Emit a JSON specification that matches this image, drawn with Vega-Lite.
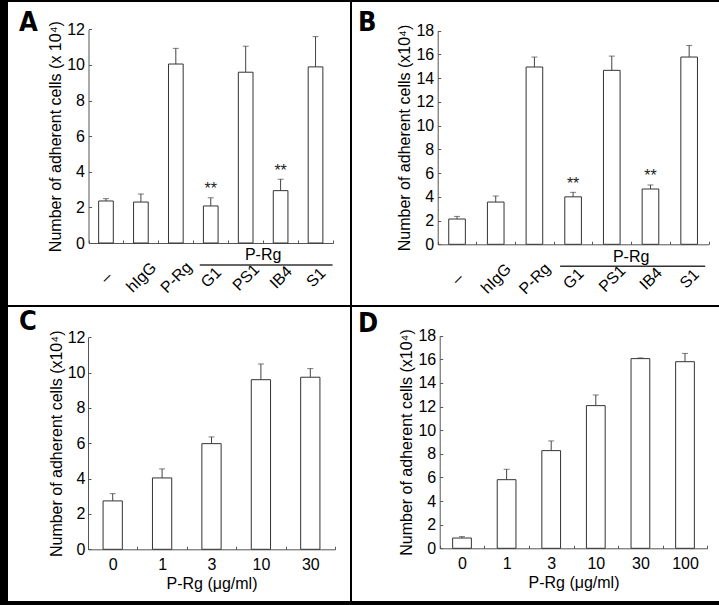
{
  "$schema": "https://vega.github.io/schema/vega-lite/v6.json",
  "background": "black",
  "padding": {"left": 2, "top": 2, "right": 2, "bottom": 4},
  "autosize": {"type": "pad"},
  "config": {
    "font": "Liberation Sans",
    "view": {"stroke": null, "fill": "white"},
    "axis": {
      "grid": false,
      "labelFont": "Liberation Sans",
      "labelFontSize": 16,
      "labelColor": "black",
      "titleFont": "Liberation Sans",
      "titleFontSize": 16,
      "titleFontWeight": "normal",
      "titleColor": "black",
      "domainColor": "#555",
      "tickColor": "#555",
      "tickSize": -3,
      "labelOverlap": false,
      "labelFlush": false
    },
    "title": {"font": "'Liberation Sans Narrow', 'DejaVu Sans Condensed', 'Liberation Sans', sans-serif", "fontSize": 27, "fontWeight": "bold", "anchor": "start", "frame": "group", "offset": 0, "color": "black"}
  },
  "datasets": {
    "A": [
      {"g": "–", "v": 2.36, "e": 2.49},
      {"g": "hIgG", "v": 2.3, "e": 2.75},
      {"g": "P-Rg", "v": 10.05, "e": 10.93},
      {"g": "G1", "v": 2.08, "e": 2.54, "sig": "**"},
      {"g": "PS1", "v": 9.59, "e": 11.05},
      {"g": "IB4", "v": 2.94, "e": 3.58, "sig": "**"},
      {"g": "S1", "v": 9.89, "e": 11.59}
    ],
    "B": [
      {"g": "–", "v": 2.13, "e": 2.35},
      {"g": "hIgG", "v": 3.56, "e": 4.07},
      {"g": "P-Rg", "v": 14.94, "e": 15.78},
      {"g": "G1", "v": 4.0, "e": 4.38, "sig": "**"},
      {"g": "PS1", "v": 14.66, "e": 15.86},
      {"g": "IB4", "v": 4.66, "e": 5.0, "sig": "**"},
      {"g": "S1", "v": 15.78, "e": 16.76}
    ],
    "C": [
      {"g": "0", "v": 2.74, "e": 3.15},
      {"g": "1", "v": 4.04, "e": 4.55},
      {"g": "3", "v": 5.98, "e": 6.36},
      {"g": "10", "v": 9.6, "e": 10.49},
      {"g": "30", "v": 9.74, "e": 10.23}
    ],
    "D": [
      {"g": "0", "v": 0.87, "e": 0.99},
      {"g": "1", "v": 5.81, "e": 6.69},
      {"g": "3", "v": 8.27, "e": 9.09},
      {"g": "10", "v": 12.08, "e": 12.98},
      {"g": "30", "v": 16.06, "e": 16.12},
      {"g": "100", "v": 15.8, "e": 16.5}
    ],
    "grp": [
      {"from": "G1", "to": "S1", "mid": "IB4", "label": "P-Rg"}
    ]
  },
  "columns": 2,
  "spacing": 2,
  "bounds": "flush",
  "concat": [
    {
      "width": 342, "height": 303,
      "title": {"text": "A", "dx": 11, "dy": 39},
      "layer": [
        {
          "data": {"name": "A"},
          "mark": {"type": "bar", "fill": "white", "stroke": "#333", "strokeWidth": 1, "width": {"band": 0.42}},
          "encoding": {
            "x": {"field": "g", "type": "nominal",
              "scale": {"domain": ["–", "hIgG", "P-Rg", "G1", "PS1", "IB4", "S1"], "range": [80.5, 325], "paddingInner": 0, "paddingOuter": 0},
              "axis": {"title": null, "labelAngle": -45, "labelAlign": "center", "labelBaseline": "middle", "labelPadding": 37, "tickBand": "extent", "offset": -62}},
            "y": {"field": "v", "type": "quantitative",
              "scale": {"domain": [0, 12], "range": [241, 27.3], "nice": false},
              "axis": {"title": "Number of adherent cells (x 10⁴)", "values": [0, 2, 4, 6, 8, 10, 12], "offset": -80.5, "labelPadding": 7, "titlePadding": 3}}
          }
        },
        {
          "data": {"name": "A"},
          "mark": {"type": "rule", "color": "#444", "strokeWidth": 1},
          "encoding": {"x": {"field": "g", "type": "nominal"},
            "y": {"field": "v", "type": "quantitative", "axis": {"title": "Number of adherent cells (x 10⁴)", "values": [0, 2, 4, 6, 8, 10, 12], "offset": -80.5, "labelPadding": 7, "titlePadding": 3}},
            "y2": {"field": "e"}}
        },
        {
          "data": {"name": "A"},
          "mark": {"type": "tick", "orient": "horizontal", "size": 6, "thickness": 1, "color": "#444"},
          "encoding": {"x": {"field": "g", "type": "nominal"},
            "y": {"field": "e", "type": "quantitative", "axis": {"title": "Number of adherent cells (x 10⁴)", "values": [0, 2, 4, 6, 8, 10, 12], "offset": -80.5, "labelPadding": 7, "titlePadding": 3}}}
        },
        {
          "data": {"name": "A"},
          "transform": [{"filter": "isValid(datum.sig)"}],
          "mark": {"type": "text", "fontSize": 16, "baseline": "alphabetic", "dy": -3.5, "color": "#222"},
          "encoding": {"x": {"field": "g", "type": "nominal"},
            "y": {"field": "e", "type": "quantitative", "axis": {"title": "Number of adherent cells (x 10⁴)", "values": [0, 2, 4, 6, 8, 10, 12], "offset": -80.5, "labelPadding": 7, "titlePadding": 3}},
            "text": {"field": "sig"}}
        },
        {
          "data": {"name": "grp"},
          "mark": {"type": "rule", "color": "#333", "strokeWidth": 1.5, "yOffset": 22, "xOffset": -11, "x2Offset": 17},
          "encoding": {"x": {"field": "from", "type": "nominal"}, "x2": {"field": "to"},
            "y": {"datum": 0, "type": "quantitative", "axis": {"title": "Number of adherent cells (x 10⁴)", "values": [0, 2, 4, 6, 8, 10, 12], "offset": -80.5, "labelPadding": 7, "titlePadding": 3}}}
        },
        {
          "data": {"name": "grp"},
          "mark": {"type": "text", "fontSize": 16, "baseline": "alphabetic", "dy": 16.5, "color": "black"},
          "encoding": {"x": {"field": "mid", "type": "nominal", "bandPosition": 0},
            "y": {"datum": 0, "type": "quantitative", "axis": {"title": "Number of adherent cells (x 10⁴)", "values": [0, 2, 4, 6, 8, 10, 12], "offset": -80.5, "labelPadding": 7, "titlePadding": 3}},
            "text": {"field": "label"}}
        }
      ]
    },
    {
      "width": 371, "height": 303,
      "title": {"text": "B", "dx": 6, "dy": 39},
      "layer": [
        {
          "data": {"name": "B"},
          "mark": {"type": "bar", "fill": "white", "stroke": "#333", "strokeWidth": 1, "width": {"band": 0.43}},
          "encoding": {
            "x": {"field": "g", "type": "nominal",
              "scale": {"domain": ["–", "hIgG", "P-Rg", "G1", "PS1", "IB4", "S1"], "range": [85.7, 356.5], "paddingInner": 0, "paddingOuter": 0},
              "axis": {"title": null, "labelAngle": -45, "labelAlign": "center", "labelBaseline": "middle", "labelPadding": 37, "tickBand": "extent", "offset": -60.7}},
            "y": {"field": "v", "type": "quantitative",
              "scale": {"domain": [0, 18], "range": [242.3, 28.7], "nice": false},
              "axis": {"title": "Number of adherent cells (x10⁴)", "values": [0, 2, 4, 6, 8, 10, 12, 14, 16, 18], "offset": -85.7, "labelPadding": 7, "titlePadding": 3}}
          }
        },
        {
          "data": {"name": "B"},
          "mark": {"type": "rule", "color": "#444", "strokeWidth": 1},
          "encoding": {"x": {"field": "g", "type": "nominal"},
            "y": {"field": "v", "type": "quantitative", "axis": {"title": "Number of adherent cells (x10⁴)", "values": [0, 2, 4, 6, 8, 10, 12, 14, 16, 18], "offset": -85.7, "labelPadding": 7, "titlePadding": 3}},
            "y2": {"field": "e"}}
        },
        {
          "data": {"name": "B"},
          "mark": {"type": "tick", "orient": "horizontal", "size": 6, "thickness": 1, "color": "#444"},
          "encoding": {"x": {"field": "g", "type": "nominal"},
            "y": {"field": "e", "type": "quantitative", "axis": {"title": "Number of adherent cells (x10⁴)", "values": [0, 2, 4, 6, 8, 10, 12, 14, 16, 18], "offset": -85.7, "labelPadding": 7, "titlePadding": 3}}}
        },
        {
          "data": {"name": "B"},
          "transform": [{"filter": "isValid(datum.sig)"}],
          "mark": {"type": "text", "fontSize": 16, "baseline": "alphabetic", "dy": -3.5, "color": "#222"},
          "encoding": {"x": {"field": "g", "type": "nominal"},
            "y": {"field": "e", "type": "quantitative", "axis": {"title": "Number of adherent cells (x10⁴)", "values": [0, 2, 4, 6, 8, 10, 12, 14, 16, 18], "offset": -85.7, "labelPadding": 7, "titlePadding": 3}},
            "text": {"field": "sig"}}
        },
        {
          "data": {"name": "grp"},
          "mark": {"type": "rule", "color": "#333", "strokeWidth": 1.5, "yOffset": 22, "xOffset": -13, "x2Offset": 16},
          "encoding": {"x": {"field": "from", "type": "nominal"}, "x2": {"field": "to"},
            "y": {"datum": 0, "type": "quantitative", "axis": {"title": "Number of adherent cells (x10⁴)", "values": [0, 2, 4, 6, 8, 10, 12, 14, 16, 18], "offset": -85.7, "labelPadding": 7, "titlePadding": 3}}}
        },
        {
          "data": {"name": "grp"},
          "mark": {"type": "text", "fontSize": 16, "baseline": "alphabetic", "dy": 17.5, "color": "black"},
          "encoding": {"x": {"field": "mid", "type": "nominal", "bandPosition": 0},
            "y": {"datum": 0, "type": "quantitative", "axis": {"title": "Number of adherent cells (x10⁴)", "values": [0, 2, 4, 6, 8, 10, 12, 14, 16, 18], "offset": -85.7, "labelPadding": 7, "titlePadding": 3}},
            "text": {"field": "label"}}
        }
      ]
    },
    {
      "width": 342, "height": 294,
      "title": {"text": "C", "dx": 11, "dy": 33},
      "layer": [
        {
          "data": {"name": "C"},
          "mark": {"type": "bar", "fill": "white", "stroke": "#333", "strokeWidth": 1, "width": {"band": 0.39}},
          "encoding": {
            "x": {"field": "g", "type": "nominal",
              "scale": {"domain": ["0", "1", "3", "10", "30"], "range": [80, 327], "paddingInner": 0, "paddingOuter": 0},
              "axis": {"title": "P-Rg (μg/ml)", "labelAngle": 0, "labelPadding": 10, "titlePadding": 3, "tickBand": "extent", "offset": -51.7}},
            "y": {"field": "v", "type": "quantitative",
              "scale": {"domain": [0, 12], "range": [242.3, 30.3], "nice": false},
              "axis": {"title": "Number of adherent cells (x10⁴)", "values": [0, 2, 4, 6, 8, 10, 12], "offset": -80, "labelPadding": 6, "titlePadding": 3}}
          }
        },
        {
          "data": {"name": "C"},
          "mark": {"type": "rule", "color": "#444", "strokeWidth": 1},
          "encoding": {"x": {"field": "g", "type": "nominal"},
            "y": {"field": "v", "type": "quantitative", "axis": {"title": "Number of adherent cells (x10⁴)", "values": [0, 2, 4, 6, 8, 10, 12], "offset": -80, "labelPadding": 6, "titlePadding": 3}},
            "y2": {"field": "e"}}
        },
        {
          "data": {"name": "C"},
          "mark": {"type": "tick", "orient": "horizontal", "size": 6, "thickness": 1, "color": "#444"},
          "encoding": {"x": {"field": "g", "type": "nominal"},
            "y": {"field": "e", "type": "quantitative", "axis": {"title": "Number of adherent cells (x10⁴)", "values": [0, 2, 4, 6, 8, 10, 12], "offset": -80, "labelPadding": 6, "titlePadding": 3}}}
        }
      ]
    },
    {
      "width": 371, "height": 294,
      "title": {"text": "D", "dx": 6, "dy": 35},
      "layer": [
        {
          "data": {"name": "D"},
          "mark": {"type": "bar", "fill": "white", "stroke": "#333", "strokeWidth": 1, "width": {"band": 0.42}},
          "encoding": {
            "x": {"field": "g", "type": "nominal",
              "scale": {"domain": ["0", "1", "3", "10", "30", "100"], "range": [87.7, 355.3], "paddingInner": 0, "paddingOuter": 0},
              "axis": {"title": "P-Rg (μg/ml)", "labelAngle": 0, "labelPadding": 10, "titlePadding": 3, "tickBand": "extent", "offset": -52.7}},
            "y": {"field": "v", "type": "quantitative",
              "scale": {"domain": [0, 18], "range": [241.3, 28.7], "nice": false},
              "axis": {"title": "Number of adherent cells (x10⁴)", "values": [0, 2, 4, 6, 8, 10, 12, 14, 16, 18], "offset": -87.7, "labelPadding": 7, "titlePadding": 3}}
          }
        },
        {
          "data": {"name": "D"},
          "mark": {"type": "rule", "color": "#444", "strokeWidth": 1},
          "encoding": {"x": {"field": "g", "type": "nominal"},
            "y": {"field": "v", "type": "quantitative", "axis": {"title": "Number of adherent cells (x10⁴)", "values": [0, 2, 4, 6, 8, 10, 12, 14, 16, 18], "offset": -87.7, "labelPadding": 7, "titlePadding": 3}},
            "y2": {"field": "e"}}
        },
        {
          "data": {"name": "D"},
          "mark": {"type": "tick", "orient": "horizontal", "size": 6, "thickness": 1, "color": "#444"},
          "encoding": {"x": {"field": "g", "type": "nominal"},
            "y": {"field": "e", "type": "quantitative", "axis": {"title": "Number of adherent cells (x10⁴)", "values": [0, 2, 4, 6, 8, 10, 12, 14, 16, 18], "offset": -87.7, "labelPadding": 7, "titlePadding": 3}}}
        }
      ]
    }
  ]
}
